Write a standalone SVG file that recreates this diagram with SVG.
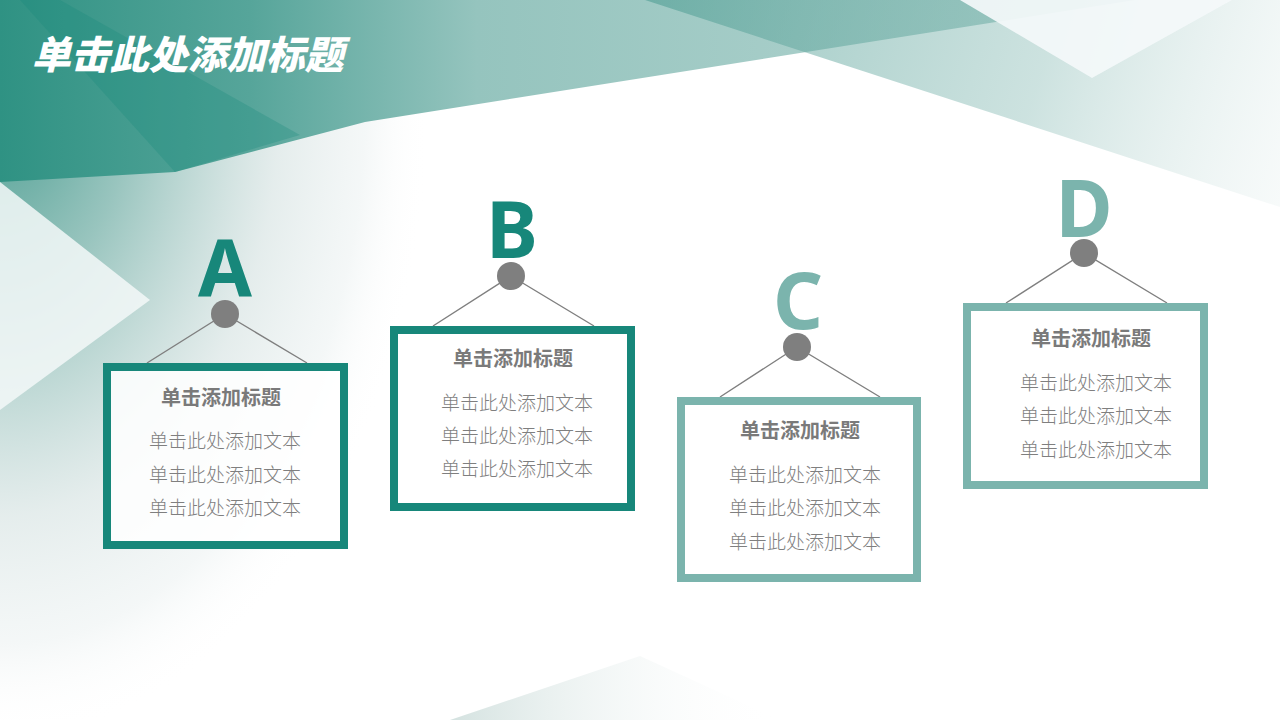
<svg xmlns="http://www.w3.org/2000/svg" width="1280" height="720" viewBox="0 0 1280 720">
  <defs>
    <style>
      .title{font-family:"Noto Sans CJK SC","Noto Sans",sans-serif;font-weight:900;font-size:39px;fill:#ffffff;}
      .letter{font-family:"Noto Sans","Open Sans","Liberation Sans",sans-serif;font-weight:700;font-size:78px;text-anchor:middle;}
      .dark{fill:#17877a;}
      .light{fill:#7bb4ad;}
      .box{fill:#ffffff;fill-opacity:0.85;stroke-width:8;}
      .boxdark{stroke:#17877a;}
      .boxlight{stroke:#7bb4ad;}
      .bt{font-family:"Noto Sans CJK SC","Noto Sans",sans-serif;font-weight:700;font-size:20px;fill:#7a7a7a;text-anchor:middle;}
      .bb{font-family:"Noto Sans CJK SC","Noto Sans",sans-serif;font-weight:300;font-size:19px;fill:#7f7f7f;text-anchor:middle;}
      .pin{fill:#7f7f7f;}
      .wire{stroke:#7f7f7f;stroke-width:1.4;fill:none;}
    </style>
    <linearGradient id="gTop" x1="0" y1="0" x2="1135" y2="0" gradientUnits="userSpaceOnUse">
      <stop offset="0" stop-color="#2f9283"/>
      <stop offset="0.22" stop-color="#56a59a"/>
      <stop offset="0.42" stop-color="#95c4be"/>
      <stop offset="0.7" stop-color="#a6cdc8"/>
      <stop offset="1" stop-color="#b0d3ce"/>
    </linearGradient>
    <linearGradient id="gY" x1="645" y1="0" x2="1280" y2="200" gradientUnits="userSpaceOnUse">
      <stop offset="0" stop-color="#4f9e94" stop-opacity="0.6"/>
      <stop offset="0.6" stop-color="#7ab3ac" stop-opacity="0.38"/>
      <stop offset="1" stop-color="#c9dedc" stop-opacity="0.15"/>
    </linearGradient>
    <radialGradient id="gLeft" cx="0" cy="100" r="1" gradientUnits="userSpaceOnUse" gradientTransform="translate(0,100) scale(430,640) translate(0,-100)">
      <stop offset="0" stop-color="#3f978a" stop-opacity="0.95"/>
      <stop offset="0.3" stop-color="#7fb6ae" stop-opacity="0.8"/>
      <stop offset="0.65" stop-color="#cfdedd" stop-opacity="0.55"/>
      <stop offset="0.85" stop-color="#e4ecec" stop-opacity="0.4"/>
      <stop offset="1" stop-color="#ffffff" stop-opacity="0"/>
    </radialGradient>
    <linearGradient id="gBot" x1="450" y1="0" x2="780" y2="0" gradientUnits="userSpaceOnUse">
      <stop offset="0" stop-color="#d4e2e0"/>
      <stop offset="1" stop-color="#ffffff" stop-opacity="0"/>
    </linearGradient>
  </defs>

  <g id="background">
    <rect x="0" y="0" width="1280" height="720" fill="#ffffff"/>
    <rect x="0" y="0" width="700" height="720" fill="url(#gLeft)"/>
    <polygon points="0,0 1135,0 365,122 175,172 0,182" fill="url(#gTop)"/>
    <polygon points="645,0 1280,0 1280,207" fill="url(#gY)"/>
    <polygon points="960,0 1092,78 1232,0" fill="#f4f9fa" fill-opacity="0.92"/>
    <polygon points="20,0 60,0 300,135 175,172" fill="#17877a" fill-opacity="0.28"/>
    <polygon points="0,182 150,300 0,410" fill="#f3f8f8" fill-opacity="0.85"/>
    <polygon points="450,720 640,656 780,720" fill="url(#gBot)"/>
  </g>

  <text class="title" x="0" y="69" transform="translate(32,0) skewX(-14) translate(17,0)">单击此处添加标题</text>

  <g id="connectors">
    <polyline class="wire" points="147,363 225,314 307,363"/>
    <polyline class="wire" points="433,326 511,276 594,326"/>
    <polyline class="wire" points="720,397 797,347 880,397"/>
    <polyline class="wire" points="1006,303 1084,253 1167,303"/>
  </g>

  <g id="node-a">
    <text class="letter dark" x="225" y="296">A</text>
    <circle class="pin" cx="225" cy="314" r="14"/>
    <rect class="box boxdark" x="107" y="367" width="237" height="178"/>
    <text class="bt" x="221" y="405">单击添加标题</text>
    <text class="bb" x="225" y="448">单击此处添加文本</text>
    <text class="bb" x="225" y="482">单击此处添加文本</text>
    <text class="bb" x="225" y="515">单击此处添加文本</text>
  </g>

  <g id="node-b">
    <text class="letter dark" x="512" y="258">B</text>
    <circle class="pin" cx="511" cy="276" r="14"/>
    <rect class="box boxdark" x="394" y="330" width="237" height="177"/>
    <text class="bt" x="513" y="366">单击添加标题</text>
    <text class="bb" x="517" y="410">单击此处添加文本</text>
    <text class="bb" x="517" y="443">单击此处添加文本</text>
    <text class="bb" x="517" y="476">单击此处添加文本</text>
  </g>

  <g id="node-c">
    <text class="letter light" x="798" y="329">C</text>
    <circle class="pin" cx="797" cy="347" r="14"/>
    <rect class="box boxlight" x="681" y="401" width="236" height="177"/>
    <text class="bt" x="800" y="438">单击添加标题</text>
    <text class="bb" x="805" y="482">单击此处添加文本</text>
    <text class="bb" x="805" y="515">单击此处添加文本</text>
    <text class="bb" x="805" y="549">单击此处添加文本</text>
  </g>

  <g id="node-d">
    <text class="letter light" x="1084" y="237">D</text>
    <circle class="pin" cx="1084" cy="253" r="14"/>
    <rect class="box boxlight" x="967" y="307" width="237" height="178"/>
    <text class="bt" x="1091" y="346">单击添加标题</text>
    <text class="bb" x="1096" y="390">单击此处添加文本</text>
    <text class="bb" x="1096" y="423">单击此处添加文本</text>
    <text class="bb" x="1096" y="457">单击此处添加文本</text>
  </g>
</svg>
